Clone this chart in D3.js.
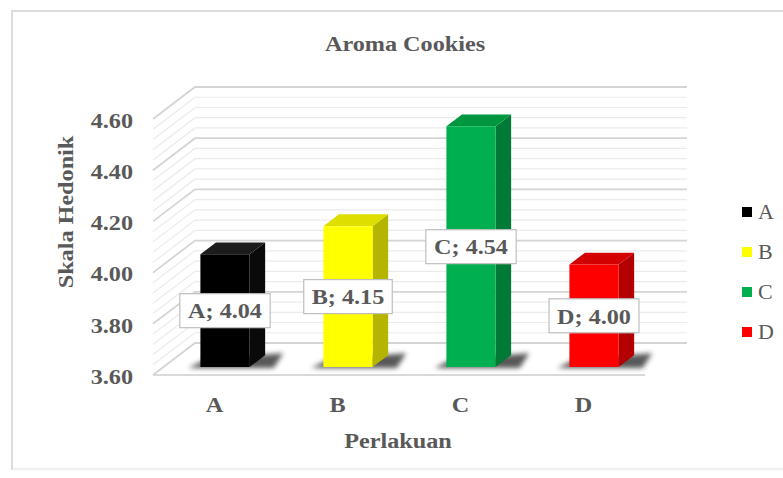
<!DOCTYPE html>
<html>
<head>
<meta charset="utf-8">
<script src="https://cdn.jsdelivr.net/npm/d3@7"></script>
<style>
  html, body { margin: 0; padding: 0; background: #ffffff; }
  svg { display: block; }
</style>
</head>
<body>
<svg id="chart" width="783" height="478"></svg>
<script>
// ---- data ----
const categories = ["A", "B", "C", "D"];
const values = [4.04, 4.15, 4.54, 4.00];
const frontColors = ["#000000", "#ffff00", "#00b050", "#ff0000"];
const sideColors = ["#0a0a0a", "#b5b500", "#007a36", "#b30000"];
const topColors = ["#1c1c1c", "#dede00", "#00963f", "#d20000"];
const yTicks = [3.6, 3.8, 4.0, 4.2, 4.4, 4.6];
const tickLabels = ["3.60", "3.80", "4.00", "4.20", "4.40", "4.60"];
const minorStep = 0.04;
const title = "Aroma Cookies";
const xTitle = "Perlakuan";
const yTitle = "Skala Hedonik";

// ---- layout ----
const svg = d3.select("#chart");
const TXT = "#595959";
const FONT = "'Liberation Serif', 'Times New Roman', serif";
const DX = 42, DY = 32;          // depth projection
const Z0 = 0.25, Z1 = 0.62;      // bar depth range

const y = d3.scaleLinear().domain([3.6, 4.6]).range([375, 119]);
const x = d3.scaleBand().domain(categories).range([153, 645]);
const P = (xw, v, z) => [xw + z * DX, y(v) - z * DY];

// outer border
svg.append("rect").attr("x", 12).attr("y", 11).attr("width", 800).attr("height", 458)
  .attr("fill", "#ffffff").attr("stroke", "#dcdcdc").attr("stroke-width", 2);
svg.append("line").attr("x1", 13).attr("x2", 783).attr("y1", 469).attr("y2", 469)
  .attr("stroke", "#f0f0f0").attr("stroke-width", 2.5);

// ---- gridlines (back wall + left wall) ----
const minorVals = d3.range(0, Math.round((4.6 - 3.6) / minorStep) + 1).map(i => 3.6 + i * minorStep);
const isMajor = v => yTicks.some(t => Math.abs(t - v) < 1e-6);
const grid = svg.append("g");
const x0 = x.range()[0], x1 = x.range()[1];
minorVals.forEach(v => {
  const major = isMajor(v);
  const a = P(x0, v, 0), b = P(x0, v, 1), c = P(x1, v, 1);
  grid.append("polyline")
    .attr("points", [a, b, c].map(p => p.join(",")).join(" "))
    .attr("fill", "none")
    .attr("stroke", major ? "#d4d4d4" : "#ebebeb")
    .attr("stroke-width", major ? 1.8 : 1.2);
});
// floor front edge
{
  const a = P(x0, 3.6, 0), b = P(x1, 3.6, 0);
  grid.append("line").attr("x1", a[0]).attr("y1", a[1]).attr("x2", b[0]).attr("y2", b[1])
    .attr("stroke", "#d9d9d9").attr("stroke-width", 1.8);
}

// ---- shadows ----
const defs = svg.append("defs");
defs.append("filter").attr("id", "blur").attr("x", "-50%").attr("y", "-50%").attr("width", "200%").attr("height", "200%")
  .append("feGaussianBlur").attr("stdDeviation", 2.5);

const bw = x.bandwidth() * 0.4;
const barX = c => x(c) + (x.bandwidth() - bw) / 2;

const shadows = svg.append("g");
categories.forEach((c, i) => {
  const bx = barX(c);
  const fl = P(bx, 3.6, Z0), fr = P(bx + bw, 3.6, Z0), br = P(bx + bw, 3.6, Z1);
  const pts = [
    [fl[0] - 12, fl[1] + 1],
    [fr[0] + 24, fr[1] + 1],
    [br[0] + 18, br[1] - 2],
    [fl[0] + 6, fl[1] - 8]
  ];
  shadows.append("polygon").attr("points", pts.map(p => p.join(",")).join(" "))
    .attr("fill", "#3a3a3a").attr("opacity", 0.85).attr("filter", "url(#blur)");
});

// ---- bars ----
const bars = svg.append("g");
categories.forEach((c, i) => {
  const bx = barX(c), v = values[i];
  const g = bars.append("g");
  const poly = (pts, fill) => g.append("polygon")
    .attr("points", pts.map(p => p.join(",")).join(" ")).attr("fill", fill);
  // side face
  poly([P(bx + bw, 3.6, Z0), P(bx + bw, v, Z0), P(bx + bw, v, Z1), P(bx + bw, 3.6, Z1)], sideColors[i]);
  // top face
  poly([P(bx, v, Z0), P(bx + bw, v, Z0), P(bx + bw, v, Z1), P(bx, v, Z1)], topColors[i]);
  // front face
  poly([P(bx, 3.6, Z0), P(bx + bw, 3.6, Z0), P(bx + bw, v, Z0), P(bx, v, Z0)], frontColors[i]);
});

// ---- text helper ----
function label(parent, px, py, str, opt = {}) {
  const t = parent.append("text")
    .attr("transform", `translate(${px},${py})` + (opt.rotate ? ` rotate(${opt.rotate})` : "") + ` scale(${opt.sx || 1.1},1)`)
    .attr("text-anchor", opt.anchor || "middle")
    .attr("dy", "0.35em")
    .attr("font-family", FONT)
    .attr("font-size", opt.size || 22)
    .attr("font-weight", opt.weight || "bold")
    .attr("fill", opt.fill || TXT)
    .text(str);
  return t;
}

// ---- data labels ----
const dl = svg.append("g");
categories.forEach((c, i) => {
  const bx = barX(c), v = values[i];
  const cx = P(bx + bw / 2, 3.6, Z0)[0];
  const cy = (P(bx, 3.6, Z0)[1] + P(bx, v, Z0)[1]) / 2;
  const g = dl.append("g");
  const rect = g.append("rect");
  const t = label(g, cx, cy, `${c}; ${values[i].toFixed(2)}`);
  const bb = t.node().getBBox();
  const w = bb.width * 1.1 + 16, h = 34;
  rect.attr("x", cx - w / 2).attr("y", cy - h / 2).attr("width", w).attr("height", h)
    .attr("fill", "#ffffff").attr("stroke", "#bfbfbf").attr("stroke-width", 1.2);
});

// ---- axes text ----
const ax = svg.append("g");
yTicks.forEach((v, i) => label(ax, 133, y(v) + 1, tickLabels[i], { anchor: "end" }));
categories.forEach(c => label(ax, x(c) + x.bandwidth() / 2, 404, c));
label(ax, 398, 440, xTitle);
label(ax, 65, 212, yTitle, { rotate: -90 });
label(ax, 405, 43, title);

// ---- legend ----
const lg = svg.append("g");
categories.forEach((c, i) => {
  const ly = 212 + i * 40;
  lg.append("rect").attr("x", 742).attr("y", ly - 5).attr("width", 10).attr("height", 10)
    .attr("fill", frontColors[i]);
  label(lg, 758, ly, c, { anchor: "start", weight: "normal", size: 20 });
});
</script>
</body>
</html>
